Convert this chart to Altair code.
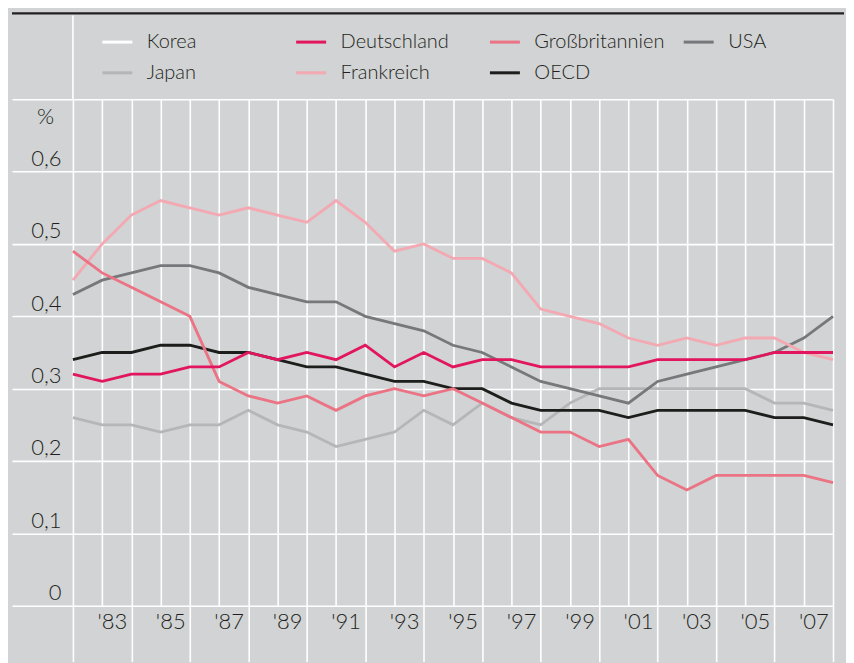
import altair as alt
import pandas as pd

# ---------------- data ----------------
years = list(range(1981, 2008))

series_order = ["Korea", "Deutschland", "Großbritannien", "USA",
                "Japan", "Frankreich", "OECD"]
series_colors = ["#ffffff", "#e2165e", "#eb7384", "#77787b",
                 "#b5b6b8", "#f3a8b2", "#1d1d1b"]

korea = []  # no visible line in the chart
japan = [0.26, 0.25, 0.25, 0.24, 0.25, 0.25, 0.27, 0.25, 0.24, 0.22, 0.23, 0.24, 0.27, 0.25,
         0.28, 0.26, 0.25, 0.28, 0.30, 0.30, 0.30, 0.30, 0.30, 0.30, 0.28, 0.28, 0.27]
deutschland = [0.32, 0.31, 0.32, 0.32, 0.33, 0.33, 0.35, 0.34, 0.35, 0.34, 0.36, 0.33, 0.35, 0.33,
               0.34, 0.34, 0.33, 0.33, 0.33, 0.33, 0.34, 0.34, 0.34, 0.34, 0.35, 0.35, 0.35]
frankreich = [0.45, 0.50, 0.54, 0.56, 0.55, 0.54, 0.55, 0.54, 0.53, 0.56, 0.53, 0.49, 0.50, 0.48,
              0.48, 0.46, 0.41, 0.40, 0.39, 0.37, 0.36, 0.37, 0.36, 0.37, 0.37, 0.35, 0.34]
grossbritannien = [0.49, 0.46, 0.44, 0.42, 0.40, 0.31, 0.29, 0.28, 0.29, 0.27, 0.29, 0.30, 0.29, 0.30,
                   0.28, 0.26, 0.24, 0.24, 0.22, 0.23, 0.18, 0.16, 0.18, 0.18, 0.18, 0.18, 0.17]
oecd = [0.34, 0.35, 0.35, 0.36, 0.36, 0.35, 0.35, 0.34, 0.33, 0.33, 0.32, 0.31, 0.31, 0.30,
        0.30, 0.28, 0.27, 0.27, 0.27, 0.26, 0.27, 0.27, 0.27, 0.27, 0.26, 0.26, 0.25]
usa = [0.43, 0.45, 0.46, 0.47, 0.47, 0.46, 0.44, 0.43, 0.42, 0.42, 0.40, 0.39, 0.38, 0.36,
       0.35, 0.33, 0.31, 0.30, 0.29, 0.28, 0.31, 0.32, 0.33, 0.34, 0.35, 0.37, 0.40]

y_ticks = [0.0, 0.1, 0.2, 0.3, 0.4, 0.5, 0.6, 0.7]
label_years = list(range(1983, 2008, 2))  # '83 ... '07

# ---------------- build table ----------------
rows = []
for name, vals in [("Japan", japan), ("USA", usa), ("Frankreich", frankreich),
                   ("OECD", oecd), ("Großbritannien", grossbritannien),
                   ("Deutschland", deutschland), ("Korea", korea)]:
    for yr, v in zip(years, vals):
        rows.append({"Jahr": yr, "Land": name, "Wert": v})
df = pd.DataFrame(rows)

# x axis: integer years carry grid lines, half years carry the labels
x_values = sorted(years + [y - 0.5 for y in label_years])

FONT = "Lato"
FW = 300
TXT = "#231f20"
BG = "#d1d3d4"

x_axis = alt.Axis(
    values=x_values,
    grid=True, gridColor="white", gridWidth=1.6,
    gridOpacity={"condition": {"test": "datum.value % 1 === 0", "value": 1}, "value": 0},
    ticks=True, tickColor="white", tickWidth=1.6, tickSize=56,
    tickOpacity={"condition": {"test": "datum.value % 2 === 1", "value": 1}, "value": 0},
    domain=False,
    labelExpr="datum.value % 1 === 0.5 ? \"'\" + substring(toString(datum.value + 0.5), 2) : ''",
    labelFont=FONT, labelFontSize=22, labelFontWeight=FW, labelColor=TXT,
    labelBaseline="alphabetic", labelPadding=-33, labelOffset=-5,
    labelOverlap=False, labelFlush=False,
    title=None,
)

y_axis = alt.Axis(
    values=y_ticks,
    grid=True, gridColor="white", gridWidth=1.6,
    ticks=True, tickColor="white", tickWidth=1.6, tickSize=61,
    domain=False,
    labelExpr="datum.value > 0.65 ? '' : (datum.value === 0 ? '0' : replace(format(datum.value, '.1f'), '.', ','))",
    labelFont=FONT, labelFontSize=22, labelFontWeight=FW, labelColor=TXT,
    labelBaseline="alphabetic", labelOffset=-6, labelPadding=-49,
    labelOverlap=False,
    title="%", titleAngle=0, titleX=-28, titleY=17, titleAlign="center",
    titleBaseline="middle", titleFont=FONT, titleFontSize=22,
    titleFontWeight=FW, titleColor=TXT,
)

legend = alt.Legend(
    title=None, orient="none", legendX=28, legendY=-74,
    direction="horizontal", columns=4, gridAlign="all",
    symbolType="stroke", symbolSize=900, symbolStrokeWidth=3,
    labelFont=FONT, labelFontSize=20, labelFontWeight=FW, labelColor=TXT, labelOffset=13,
    columnPadding=12, rowPadding=4, padding=0, symbolOpacity=1,
)

lines = alt.Chart(df).mark_line(strokeWidth=2.8).encode(
    x=alt.X("Jahr:Q", scale=alt.Scale(domain=[1981, 2007], nice=False, zero=False), axis=x_axis),
    y=alt.Y("Wert:Q", scale=alt.Scale(domain=[0, 0.7], nice=False), axis=y_axis),
    color=alt.Color("Land:N", scale=alt.Scale(domain=series_order, range=series_colors), legend=legend),
    detail="Land:N",
)

one = pd.DataFrame({"k": [0]})
top_black = alt.Chart(one).mark_rule(color=TXT, strokeWidth=2.2).encode(
    x=alt.value(-61), x2=alt.value(772), y=alt.value(-86))
left_white = alt.Chart(one).mark_rule(color="white", strokeWidth=1.6).encode(
    x=alt.value(0), y=alt.value(-84), y2=alt.value(0))

chart = alt.layer(lines, left_white, top_black).properties(
    width=761, height=507,
    padding={"left": 2, "top": 3, "right": 0, "bottom": 0},
    background=BG,
).configure_view(strokeWidth=0)

chart.save("out.html", embed_options={"renderer": "svg", "actions": False})
